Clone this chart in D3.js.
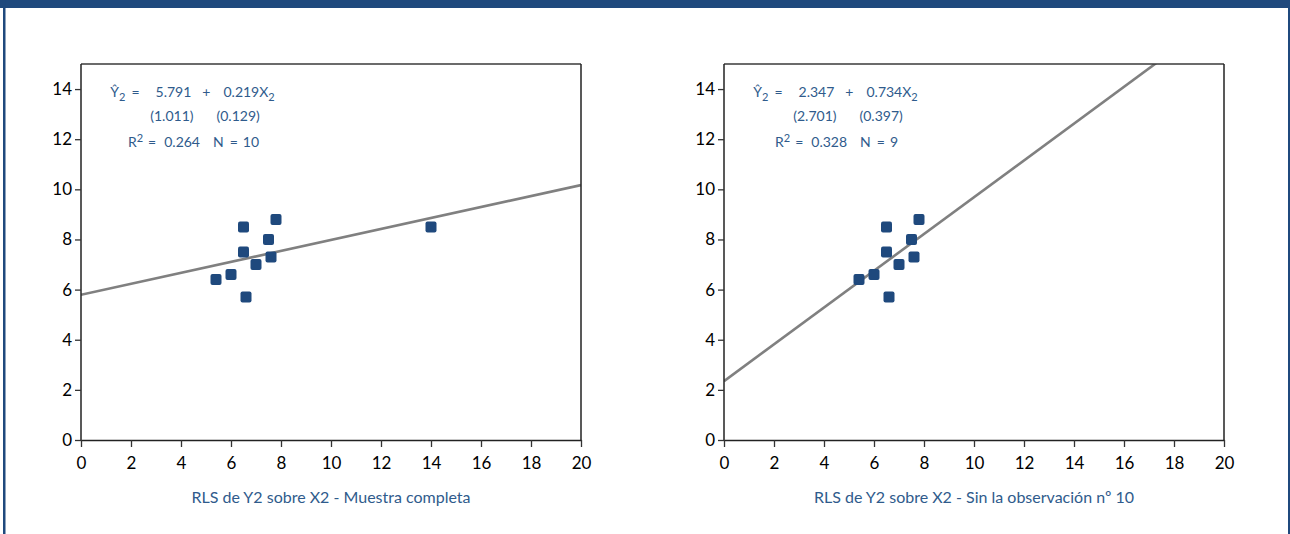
<!DOCTYPE html>
<html>
<head>
<meta charset="utf-8">
<script src="https://cdn.jsdelivr.net/npm/d3@7"></script>
<style>
body { margin:0; background:#fff; }
svg text { font-family: Lato, "Open Sans", sans-serif; }
</style>
</head>
<body>
<svg id="chart" width="1290" height="534"></svg>
<script>
// datos
var xFull = [5.4, 6.0, 6.5, 6.5, 6.6, 7.0, 7.5, 7.6, 7.8, 14.0];
var yFull = [6.4, 6.6, 8.5, 7.5, 5.7, 7.0, 8.0, 7.3, 8.8, 8.5];
var xSin = [5.4, 6.0, 6.5, 6.5, 6.6, 7.0, 7.5, 7.6, 7.8];
var ySin = [6.4, 6.6, 8.5, 7.5, 5.7, 7.0, 8.0, 7.3, 8.8];
var coefs = [[5.791, 0.219], [2.347, 0.734]];
var stdErr = [["(1.011)", "(0.129)"], ["(2.701)", "(0.397)"]];
var r2Labels = ["0.264", "0.328"];
var nLabels = ["10", "9"];
var titles = ["RLS de Y2 sobre X2 - Muestra completa", "RLS de Y2 sobre X2 - Sin la observación nº 10"];
var xTicks = [0, 2, 4, 6, 8, 10, 12, 14, 16, 18, 20];
var yTicks = [0, 2, 4, 6, 8, 10, 12, 14];

var blue = "#1f497d";
var txtBlue = "#2f5b8c";
var svg = d3.select("#chart");

// marco exterior
svg.append("rect").attr("x", 0).attr("y", 0).attr("width", 1290).attr("height", 8).attr("fill", blue);
svg.append("rect").attr("x", 3).attr("y", 0).attr("width", 2.5).attr("height", 534).attr("fill", blue);
svg.append("rect").attr("x", 1288).attr("y", 0).attr("width", 2).attr("height", 534).attr("fill", blue);

function sub(t, s, up) {
    // tspan de subindice / superindice, vuelve a la linea base
    let d = up ? -5 : 4;
    t.append("tspan").attr("dy", d).style("font-size", "11px").text(s);
    return -d;
}

function drawPanel(left, xs, ys, k) {
    let w = 500, top = 64, bottom = 440;
    let x = d3.scaleLinear().domain([0, 20]).range([left, left + w]);
    let y = d3.scaleLinear().domain([0, 15]).range([bottom, top]);
    let g = svg.append("g");

    // recta de regresion (recortada al area)
    let clipId = "clip" + k;
    svg.append("clipPath").attr("id", clipId).append("rect")
        .attr("x", left).attr("y", top).attr("width", w).attr("height", bottom - top);
    let a = coefs[k][0], b = coefs[k][1];
    g.append("line")
        .attr("clip-path", "url(#" + clipId + ")")
        .attr("x1", x(0)).attr("y1", y(a))
        .attr("x2", x(20)).attr("y2", y(a + b * 20))
        .attr("stroke", "#808080").attr("stroke-width", 2.6);

    // puntos
    g.selectAll("rect.pt").data(xs).join("rect")
        .attr("class", "pt")
        .attr("x", (d) => x(d) - 5.5)
        .attr("y", (d, i) => y(ys[i]) - 5.5)
        .attr("width", 11).attr("height", 11)
        .attr("rx", 2)
        .attr("fill", blue);

    // marco
    g.append("line").attr("x1", left).attr("x2", left + w).attr("y1", top).attr("y2", top)
        .attr("stroke", "#3a3a3a").attr("stroke-width", 1.5);
    g.append("line").attr("x1", left + w).attr("x2", left + w).attr("y1", top).attr("y2", bottom)
        .attr("stroke", "#222").attr("stroke-width", 1.5);

    let yAxis = g.append("g").attr("transform", "translate(" + left + ",0)")
        .call(d3.axisLeft(y).tickValues(yTicks).tickSize(6).tickPadding(3).tickSizeOuter(0));
    let xAxis = g.append("g").attr("transform", "translate(0," + bottom + ")")
        .call(d3.axisBottom(x).tickValues(xTicks).tickSize(7).tickPadding(10).tickSizeOuter(0));
    [xAxis, yAxis].forEach(function(ax) {
        ax.select(".domain").attr("stroke", "#222").attr("stroke-width", 1.5);
        ax.selectAll(".tick line").attr("stroke", "#333").attr("stroke-width", 1.3);
        ax.selectAll(".tick text").attr("fill", "#000").style("font-size", "17px");
    });
    yAxis.select(".domain").attr("d", "M0," + top + "V" + bottom);

    // ecuacion
    let eq = g.append("g").attr("fill", txtBlue).style("font-size", "14px")
        .attr("text-anchor", "middle");
    let r1 = eq.append("text").attr("x", left + 111.5).attr("y", 97);
    r1.append("tspan").text("Ŷ");
    let back = sub(r1, "2");
    r1.append("tspan").attr("dy", back).attr("dx", 6).text("=");
    r1.append("tspan").attr("dx", 16).text(a.toFixed(3));
    r1.append("tspan").attr("dx", 11).text("+");
    r1.append("tspan").attr("dx", 13).text(b.toFixed(3) + "X");
    sub(r1, "2");

    let r2 = eq.append("text").attr("x", left + 124).attr("y", 121);
    r2.append("tspan").text(stdErr[k][0]);
    r2.append("tspan").attr("dx", 23).text(stdErr[k][1]);

    let r3 = eq.append("text").attr("x", left + 112.5).attr("y", 147);
    r3.append("tspan").text("R");
    back = sub(r3, "2", true);
    r3.append("tspan").attr("dy", back).attr("dx", 5).text("=");
    r3.append("tspan").attr("dx", 8).text(r2Labels[k]);
    r3.append("tspan").attr("dx", 13).text("N");
    r3.append("tspan").attr("dx", 6).text("=");
    r3.append("tspan").attr("dx", 5).text(nLabels[k]);

    // titulo
    g.append("text").attr("x", left + w / 2).attr("y", 503)
        .attr("text-anchor", "middle").attr("fill", txtBlue)
        .style("font-size", "16px").text(titles[k]);
}

drawPanel(81, xFull, yFull, 0);
drawPanel(724, xSin, ySin, 1);
</script>
</body>
</html>
